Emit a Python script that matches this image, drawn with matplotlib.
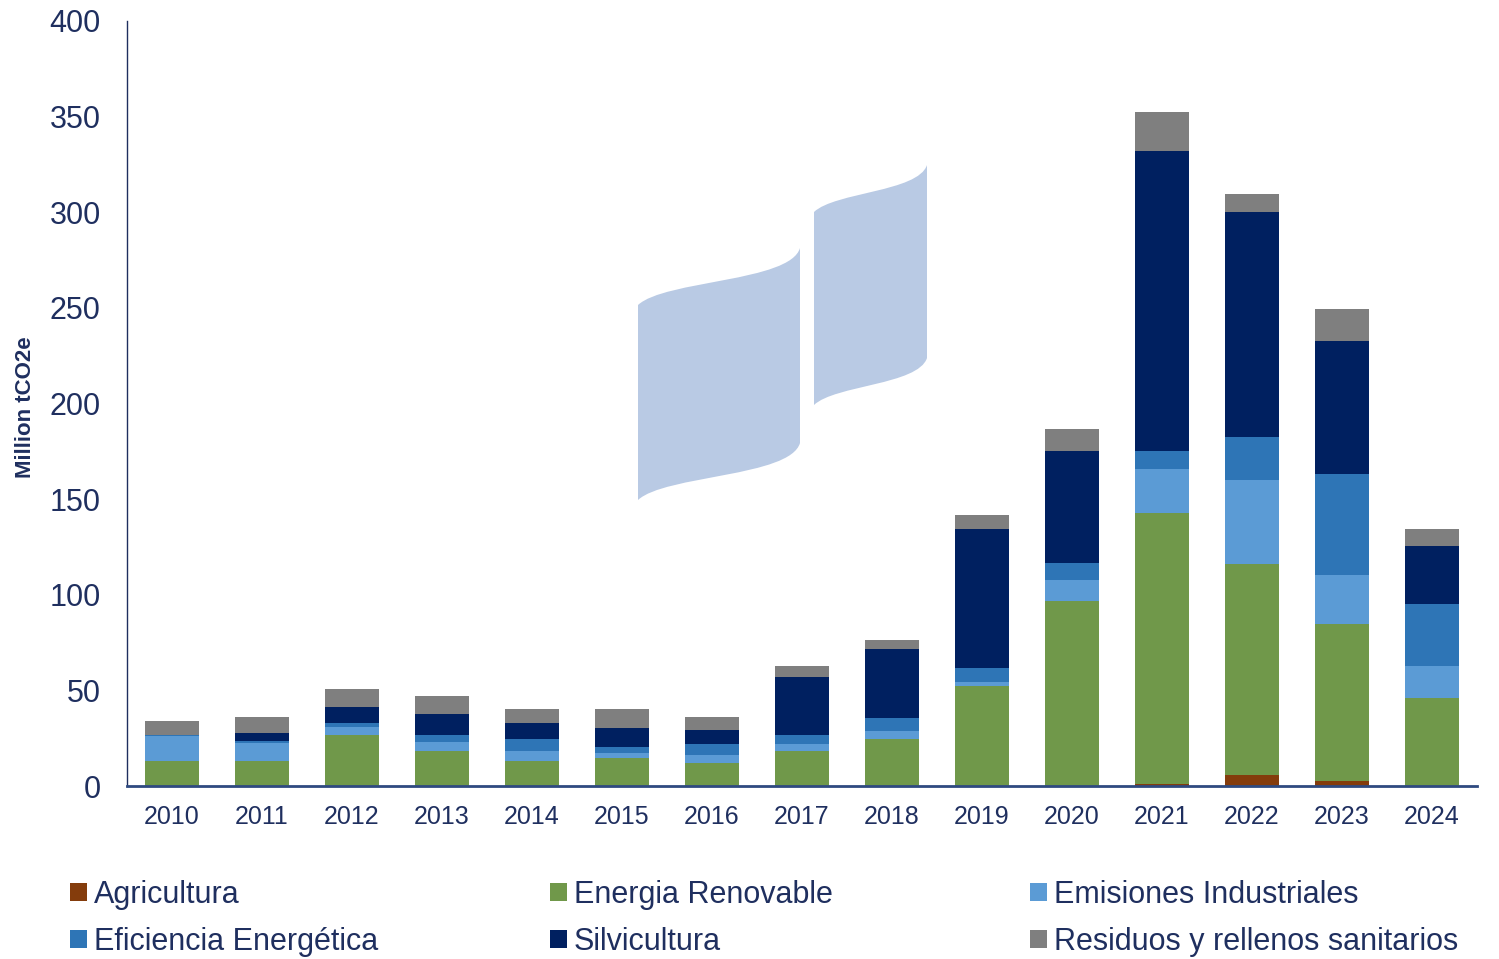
import numpy as np
import matplotlib
matplotlib.use("Agg")
import matplotlib.pyplot as plt
from matplotlib.path import Path
from matplotlib.patches import PathPatch

# datos (Million tCO2e)
years = [str(y) for y in range(2010, 2025)]
agricultura = [0, 0, 0, 0, 0, 0, 0, 0, 0, 0, 0, 1.2, 5.9, 2.4, 0]
energia_renovable = [13.2, 13.2, 26.7, 18.3, 13.2, 14.8, 12.2, 18.3, 24.4, 52.3, 96.9, 141.3, 110.2, 82.4, 46.0]
emisiones_ind = [12.9, 9.1, 4.0, 4.9, 5.1, 2.3, 3.8, 3.5, 4.5, 2.2, 10.8, 23.2, 43.7, 25.3, 16.8]
eficiencia = [0.6, 1.0, 2.0, 3.5, 6.1, 3.5, 5.8, 4.7, 6.5, 7.4, 8.7, 9.6, 22.9, 53.2, 32.5]
silvicultura = [0, 4.6, 8.4, 10.8, 8.3, 9.9, 7.3, 30.5, 36.1, 72.5, 58.9, 156.5, 117.6, 69.2, 30.4]
residuos = [7.3, 8.3, 9.8, 9.7, 7.4, 9.6, 7.1, 5.9, 4.8, 7.3, 11.2, 20.4, 9.5, 17.1, 8.7]

series = [
    ("Agricultura", agricultura, "#843C0C"),
    ("Energia Renovable", energia_renovable, "#70984A"),
    ("Emisiones Industriales", emisiones_ind, "#5B9BD5"),
    ("Eficiencia Energética", eficiencia, "#2E75B6"),
    ("Silvicultura", silvicultura, "#002060"),
    ("Residuos y rellenos sanitarios", residuos, "#7F7F7F"),
]

txt = "#1F2F5F"
plt.rcParams["font.family"] = ["Liberation Sans", "DejaVu Sans"]

W, H = 1499, 959
fig = plt.figure(figsize=(W / 100, H / 100), dpi=100)
ax = fig.add_axes([127 / W, 1 - 786 / H, 1350 / W, 765 / H])

x = np.arange(len(years))
bottom = np.zeros(len(years))
handles = {}
for name, vals, col in series:
    b = ax.bar(x, vals, 0.59, bottom=bottom, color=col, linewidth=0, label=name)
    handles[name] = b
    bottom += np.array(vals)

ax.set_xlim(-0.5, len(years) - 0.5)
ax.set_ylim(0, 400)
ax.set_yticks(range(0, 401, 50))
ax.set_xticks(x)
ax.set_xticklabels(years, fontsize=18, color=txt)
ax.tick_params(axis="y", length=0, labelsize=22, labelcolor=txt, pad=19)
ax.tick_params(axis="x", length=0, pad=14)
ax.set_ylabel("Million tCO2e", fontsize=16, fontweight="bold", color=txt)
ax.yaxis.set_label_coords((36 - 127) / 1350, 0.495)
for s in ["top", "right"]:
    ax.spines[s].set_visible(False)
ax.spines["left"].set_color(txt)
ax.spines["left"].set_linewidth(1.0)
ax.spines["bottom"].set_color("#2F4A80")
ax.spines["bottom"].set_linewidth(2.0)

# logo de fondo (dos banderas onduladas)
def fx(p):
    return (p[0] / W, 1 - p[1] / H)

def flag(x0, x1, yl, yr, c1, c2, h):
    top = [(x0, yl), c1, c2, (x1, yr)]
    bot = [(x0, yl + h), (c1[0], c1[1] + h), (c2[0], c2[1] + h), (x1, yr + h)]
    verts = [top[0], top[1], top[2], top[3], bot[3], bot[2], bot[1], bot[0], top[0]]
    codes = [Path.MOVETO, Path.CURVE4, Path.CURVE4, Path.CURVE4, Path.LINETO,
             Path.CURVE4, Path.CURVE4, Path.CURVE4, Path.CLOSEPOLY]
    path = Path([fx(v) for v in verts], codes)
    fig.patches.append(PathPatch(path, facecolor="#B9CAE4", edgecolor="none",
                                 transform=fig.transFigure, zorder=0))

flag(638, 800, 305, 248, (665, 280), (790, 282), 195)
flag(814, 927, 212, 165, (835, 192), (918, 192), 193)
ax.set_zorder(1)
ax.patch.set_alpha(0)

# leyenda: tres columnas fijas
cols = [(70, ["Agricultura", "Eficiencia Energética"]),
        (550, ["Energia Renovable", "Silvicultura"]),
        (1030, ["Emisiones Industriales", "Residuos y rellenos sanitarios"])]
for xpix, names in cols:
    leg = fig.legend([handles[n] for n in names], names, loc="upper left",
                     bbox_to_anchor=(xpix / W, 1 - 880 / H), ncol=1, frameon=False,
                     fontsize=22, handlelength=0.55, handleheight=0.55, handletextpad=0.22,
                     labelspacing=0.55, borderpad=0, borderaxespad=0)
    for t in leg.get_texts():
        t.set_color(txt)

fig.savefig("out.png", dpi=100)
